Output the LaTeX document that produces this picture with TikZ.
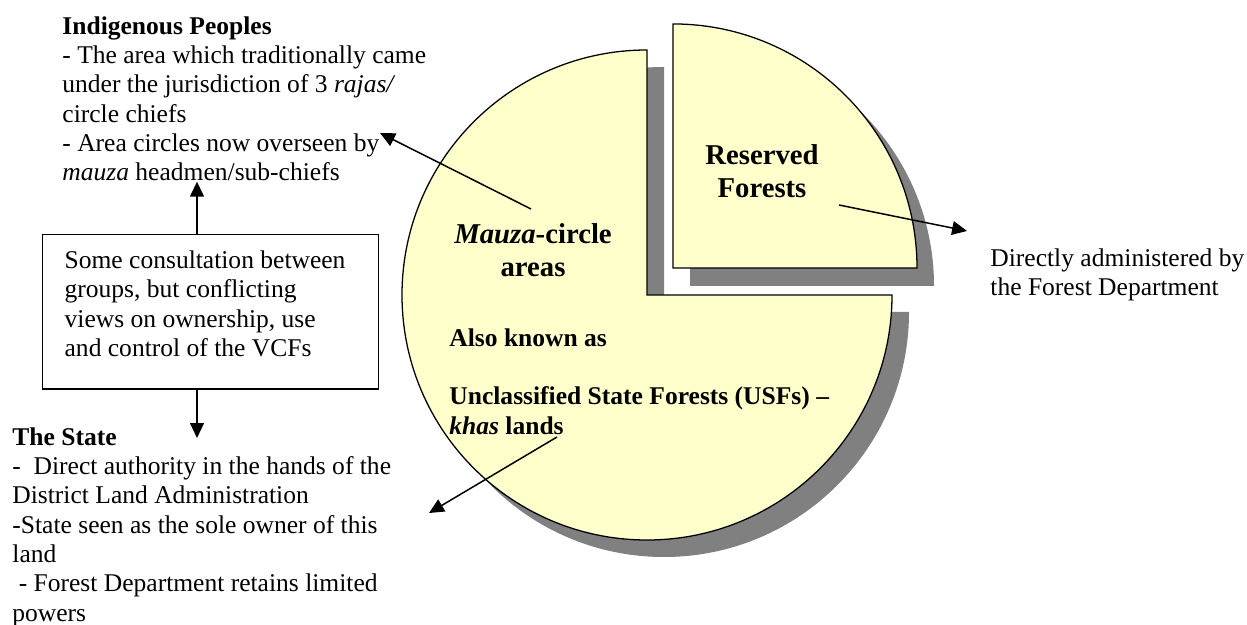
\documentclass[tikz,border=0pt]{standalone}
\usepackage{fontspec}
\setmainfont{Liberation Serif}
\usepackage{xcolor}
\usetikzlibrary{arrows.meta, positioning}
\definecolor{pieyellow}{HTML}{FFFFCC}
\definecolor{shadowgray}{HTML}{808080}

\begin{document}
\begin{tikzpicture}[x=0.47pt, y=-0.47pt,
    txt/.style={inner sep=0pt, align=left, anchor=north west, font=\fontsize{12}{13.8}\selectfont},
    bigtxt/.style={inner sep=0pt, align=center, anchor=north, font=\fontsize{13.5}{15.5}\selectfont\bfseries},
    arr/.style={line width=0.7pt, -{Triangle[length=7pt, width=6.5pt]}},
    piece/.style={draw, line width=0.6pt, fill=pieyellow},
    pieshadow/.style={fill=shadowgray}]
    \useasboundingbox (0,0) rectangle (1247,625);

    % shadows of the pie
    \fill[pieshadow] (664,312) -- (664,67) arc[start angle=90, end angle=360, radius=115.15pt] -- cycle;
    \fill[pieshadow] (690,286) -- (934,286) arc[start angle=0, end angle=90, radius=114.7pt] -- cycle;

    % pie: mauza-circle areas and reserved forests
    \draw[piece] (647,295) -- (647,50) arc[start angle=90, end angle=360, radius=115.15pt] -- cycle;
    \draw[piece] (673,268) -- (917,268) arc[start angle=0, end angle=90, radius=114.7pt] -- cycle;

    \node[bigtxt] (rf) at (762,144) {Reserved\\Forests};
    \node[bigtxt] (mz) at (533,223) {\textit{Mauza}-circle\\areas};
    \node[txt, font=\fontsize{12}{13.8}\selectfont\bfseries] (aka) at (449,328)
        {Also known as\\[13.8pt]Unclassified State Forests (USFs) --\\\textit{khas} lands};

    % texts around
    \node[txt] (ind) at (62,16) {\textbf{Indigenous Peoples}\\
        - The area which traditionally came\\
        under the jurisdiction of 3 \textit{rajas/}\\
        circle chiefs\\
        - Area circles now overseen by\\
        \textit{mauza} headmen/sub-chiefs};
    \node[draw, line width=0.7pt, anchor=north west, inner xsep=10.3pt, inner ysep=7.5pt,
        font=\fontsize{12}{13.8}\selectfont] (cons) at (42,234)
        {\parbox[t][57.4pt][t]{137.3pt}{\raggedright Some consultation between\\
        groups, but conflicting\\
        views on ownership, use\\
        and control of the VCFs}};
    \node[txt] (state) at (12,427) {\textbf{The State}\\
        -\ \ Direct authority in the hands of the\\
        District Land Administration\\
        -State seen as the sole owner of this\\
        land\\
        \ - Forest Department retains limited\\
        powers};
    \node[txt] (fd) at (990,248) {Directly administered by\\the Forest Department};

    % arrows
    \coordinate (mzstart) at (531,209);
    \coordinate (mztip) at (380,133);
    \coordinate (khstart) at (557,437);
    \coordinate (khtip) at (429,513);
    \coordinate (rfstart) at (839,205);
    \coordinate (rftip) at (967,231);
    \coordinate (statetip) at (197,438);

    \draw[arr] (statetip |- cons.north) -- (statetip |- ind.south);
    \draw[arr] (statetip |- cons.south) -- (statetip);
    \draw[arr] (mzstart) -- (mztip);
    \draw[arr] (khstart) -- (khtip);
    \draw[arr] (rfstart) -- (rftip);
\end{tikzpicture}
\end{document}
